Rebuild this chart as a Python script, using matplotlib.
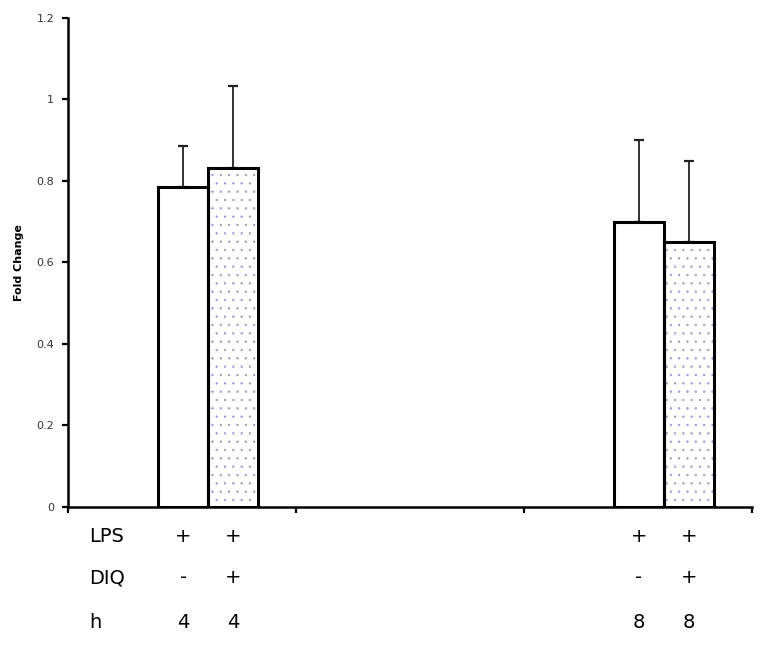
import matplotlib
matplotlib.use("Agg")
import matplotlib.pyplot as plt
from matplotlib.transforms import blended_transform_factory

plt.rcParams["font.family"] = ["DejaVu Sans"]
plt.rcParams["hatch.linewidth"] = 0.4

# data
bar_x = [0.505, 0.725, 2.505, 2.725]
fold_change = [0.785, 0.833, 0.70, 0.65]
err_up = [0.10, 0.20, 0.20, 0.20]
dotted = [False, True, False, True]
row_names = ["LPS", "DIQ", "h"]
row_values = [["+", "+", "+", "+"],
              ["-", "+", "-", "+"],
              ["4", "4", "8", "8"]]
yticks = [0, 0.2, 0.4, 0.6, 0.8, 1.0, 1.2]

fig = plt.figure(figsize=(7.67, 6.47), dpi=100)
ax = fig.add_axes([0.0887, 0.2164, 0.8913, 0.7558])

w = 0.22
for x, v, e, d in zip(bar_x, fold_change, err_up, dotted):
    if d:
        ax.bar(x, v, width=w, color="white", edgecolor="#8c97cc",
               hatch="..", linewidth=0, zorder=2)
    else:
        ax.bar(x, v, width=w, color="white", linewidth=0, zorder=2)
    ax.bar(x, v, width=w, fill=False, edgecolor="black", linewidth=2.2,
           zorder=3)
    ax.errorbar(x, v, yerr=[[0], [e]], fmt="none", ecolor="#222222",
                elinewidth=1.3, capsize=3.5, capthick=1.6, zorder=1)

ax.set_xlim(0, 3)
ax.set_ylim(0, 1.2)
ax.set_xticks([0, 1, 2, 3])
ax.set_xticklabels([])
ax.set_yticks(yticks)
ax.set_yticklabels([f"{t:g}" for t in yticks], fontsize=8, color="#333333")
ax.tick_params(axis="both", direction="out", length=4, width=1.6, pad=6)
for s in ["top", "right"]:
    ax.spines[s].set_visible(False)
for s in ["left", "bottom"]:
    ax.spines[s].set_linewidth(1.8)
ax.set_ylabel("Fold Change", fontsize=8, fontweight="bold", labelpad=9)

trans = blended_transform_factory(ax.transData, ax.transAxes)
row_y = [-0.061, -0.145, -0.237]
for name, vals, ry in zip(row_names, row_values, row_y):
    ax.text(0.092, ry, name, transform=trans, ha="left", va="center",
            fontsize=14, clip_on=False)
    for x, t in zip(bar_x, vals):
        ax.text(x, ry, t, transform=trans, ha="center", va="center",
                fontsize=14, clip_on=False)

fig.savefig("out.png", dpi=100)
